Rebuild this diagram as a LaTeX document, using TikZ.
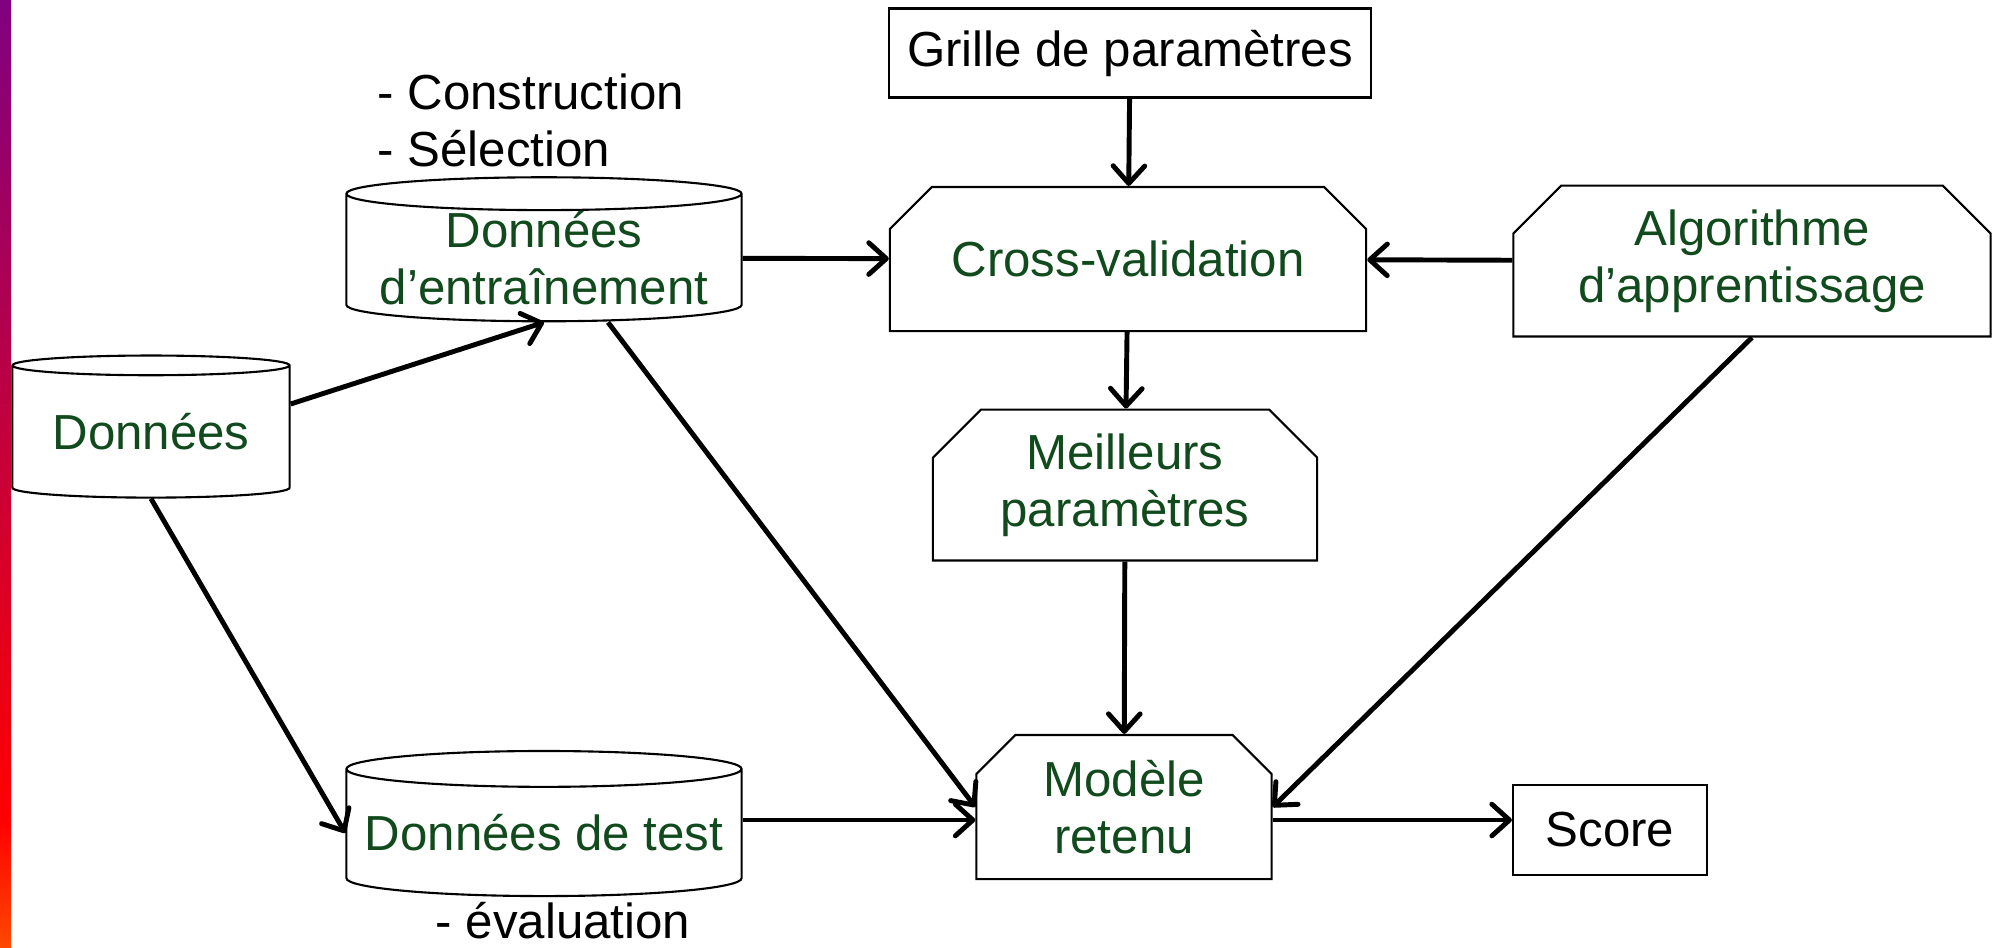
\documentclass[tikz,border=0pt]{standalone}
\usepackage{fontspec}
\setmainfont{Liberation Sans}
\usetikzlibrary{shapes.geometric,shapes.misc,arrows.meta}

\definecolor{dkgreen}{HTML}{114A1C}
\definecolor{barpurple}{RGB}{128,0,128}
\definecolor{barred}{RGB}{255,0,0}
\definecolor{barorange}{RGB}{255,72,0}

\tikzset{%
        every box/.style={
            draw,
            line width=0.6pt,
            inner sep=0pt,
            align=center,
            font=\fontsize{14}{16.2}\selectfont
        },
        data store/.style={
            cylinder,
            shape border rotate=90,
            aspect=0.1,
            text=dkgreen
        },
        process box/.style={
            chamfered rectangle,
            chamfered rectangle corners={north west,north east},
            chamfered rectangle xsep=0.24cm,
            chamfered rectangle ysep=0.24cm,
            text=dkgreen
        },
        plain box/.style={
            rectangle
        },
        side note/.style={
            align=left,
            inner sep=0pt,
            font=\fontsize{14}{16.2}\selectfont
        },
    }

\begin{document}
\begin{tikzpicture}[x=0.01cm, y=-0.01cm, line width=1.4pt,
    >={Straight Barb[length=5pt,width=9pt,round]}]

        \useasboundingbox (0,0) rectangle (1994,947);

        % side bar
        \shade [top color=barpurple, bottom color=barred] (0,0) rectangle (11,820);
        \shade [top color=barred, bottom color=barorange] (0,820) rectangle (11,947);

        \node [every box, data store, minimum width=2.77cm, minimum height=1.42cm] (data) at (151,432) {Données};
        \node [every box, data store, minimum width=3.95cm, minimum height=1.40cm] (de) at (544,258) {Données\\d’entraînement};
        \node [every box, data store, minimum width=3.95cm, minimum height=1.45cm] (dt) at (544,833) {Données de test};

        \node [every box, plain box, minimum width=4.81cm, minimum height=0.89cm] (grille) at (1130,53) {Grille de paramètres};
        \node [every box, process box, minimum width=4.76cm, minimum height=1.44cm] (cross) at (1128,259) {Cross-validation};
        \node [every box, process box, minimum width=4.77cm, minimum height=1.44cm] (algo) at (1752,261) {Algorithme\\d’apprentissage};
        \node [every box, process box, minimum width=3.84cm, minimum height=1.44cm] (best) at (1125,485) {Meilleurs\\paramètres};
        \node [every box, process box, chamfered rectangle xsep=0.16cm, chamfered rectangle ysep=0.23cm,
            minimum width=2.95cm, minimum height=1.44cm] (model) at (1124,807) {Modèle\\retenu};
        \node [every box, plain box, minimum width=1.94cm, minimum height=0.90cm] (score) at (1610,830) {Score};

        \node [side note, anchor=west] (steps) at (375,120) {- Construction\\- Sélection};
        \node [side note] (eval) at (563,921) {- évaluation};

        \coordinate (into) at ([yshift=-0.13cm]model.west);
        \coordinate (out) at ([yshift=-0.13cm]model.east);

        \foreach \a/\b in {grille/cross, de/cross, algo/cross, cross/best, best/model}
            \draw [->] (\a) -- (\b);

        \draw [->] ([yshift=0.28cm]data.east) -- (de.south);
        \draw [->] (data.south) -- (dt.west);
        \draw [->] ([xshift=0.64cm]de.south) -- (model.west);
        \draw [->] (dt.east |- into) -- (into);
        \draw [->] (algo.south) -- (model.east);
        \draw [->] (out) -- (out -| score.west);
    \end{tikzpicture}
\end{document}
